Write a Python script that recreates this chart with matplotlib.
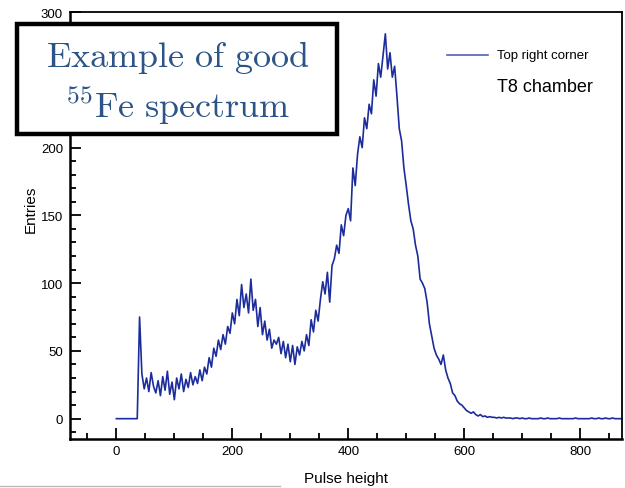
import matplotlib
matplotlib.use("Agg")
import matplotlib.pyplot as plt
import numpy as np
from matplotlib.lines import Line2D
from matplotlib.patches import Rectangle
from matplotlib.ticker import MultipleLocator

plt.rcParams["font.family"] = ["Liberation Sans", "DejaVu Sans"]
plt.rcParams["mathtext.fontset"] = "cm"

# pulse-height bins (width 4) and entries
pulse_height = np.arange(0, 880, 4)
entries = [
    0, 0, 0, 0, 0, 0, 0, 0, 0, 0,
    75, 33, 22, 30, 20, 34, 24, 19, 28, 17,
    31, 21, 35, 18, 27, 14, 30, 22, 33, 20,
    29, 23, 34, 25, 31, 26, 36, 28, 38, 33,
    45, 38, 52, 46, 58, 51, 62, 55, 68, 63,
    78, 70, 88, 76, 99, 82, 92, 78, 103, 80,
    88, 68, 82, 62, 72, 58, 66, 52, 58, 55,
    60, 48, 57, 45, 55, 42, 54, 40, 53, 47,
    57, 50, 62, 54, 73, 64, 80, 72, 88, 101,
    92, 108, 86, 113, 118, 128, 122, 143, 135, 150,
    155, 146, 185, 172, 195, 208, 200, 222, 214, 232,
    225, 250, 238, 262, 252, 268, 284, 258, 270, 252,
    260, 238, 214, 205, 185, 172, 158, 146, 140, 128,
    120, 103, 100, 96, 86, 70, 61, 52, 47, 44,
    40, 47, 36, 30, 26, 19, 17, 13, 11, 10,
    8, 6, 5, 4, 5, 3, 2, 3, 1.5, 2,
    1, 1.5, 1, 1, 0.5, 1, 0.5, 1, 0.5, 0.5,
    0.5, 0, 0.5, 0.5, 0, 0.5, 0, 0, 0.5, 0,
    0, 0, 0, 0.5, 0, 0, 0.5, 0, 0, 0,
    0, 0.5, 0, 0, 0, 0, 0, 0, 0.5, 0,
    0, 0, 0, 0, 0, 0.5, 0, 0, 0.5, 0,
    0, 0.5, 0, 0, 0.5, 0, 0, 0, 0, 0,
]
x_ticks = [0, 200, 400, 600, 800]
y_ticks = [0, 50, 100, 150, 200, 250, 300]

line_color = "#1c2c9c"
title_color = "#2c5487"

fig = plt.figure(figsize=(6.25, 4.89), dpi=100)
ax = fig.add_axes([0.112, 0.1002, 0.883, 0.873])
ax.plot(pulse_height, entries, color=line_color, linewidth=1.2)

ax.set_xlim(-80, 872)
ax.set_ylim(-15, 300)
ax.set_xticks(x_ticks)
ax.set_yticks(y_ticks)
ax.xaxis.set_minor_locator(MultipleLocator(50))
ax.yaxis.set_minor_locator(MultipleLocator(10))
ax.tick_params(which="both", direction="in", top=False, right=False,
               labelsize=9.5, width=1.3)
ax.tick_params(which="major", length=8)
ax.tick_params(which="minor", length=4)
ax.tick_params(axis="y", pad=5)
ax.tick_params(axis="x", pad=4)
for spine in ax.spines.values():
    spine.set_linewidth(1.3)
ax.spines["bottom"].set_linewidth(1.8)
ax.spines["left"].set_linewidth(1.8)

ax.set_xlabel("Pulse height", fontsize=11)
ax.set_ylabel("Entries", fontsize=11)
ax.xaxis.set_label_coords(0.5, -0.075)
ax.yaxis.set_label_coords(-0.058, 0.54)

# legend-like annotation at top right
fig.add_artist(Line2D([447 / 625, 488 / 625], [1 - 56 / 489] * 2,
                      color=line_color, alpha=0.75, linewidth=1.2))
fig.text(497 / 625, 1 - 56 / 489, "Top right corner", fontsize=9.5,
         va="center", ha="left")
fig.text(497 / 625, 1 - 87 / 489, "T8 chamber", fontsize=13,
         va="center", ha="left")

# title box on top of the axes
fig.add_artist(Rectangle((17 / 625, 1 - 135 / 489), 320 / 625, 110 / 489,
                         facecolor="white", edgecolor="black", linewidth=3.2,
                         transform=fig.transFigure))
fig.text(178 / 625, 1 - 58 / 489, r"$\mathrm{Example\ of\ good}$",
         fontsize=26, color=title_color, ha="center", va="center")
fig.text(178 / 625, 1 - 106 / 489, r"$^{55}\mathrm{Fe\ spectrum}$",
         fontsize=26, color=title_color, ha="center", va="center")

fig.add_artist(Line2D([0, 280 / 625], [1 - 487 / 489] * 2,
                      color="#bbbbbb", linewidth=1))

fig.savefig("out.png", dpi=100)
